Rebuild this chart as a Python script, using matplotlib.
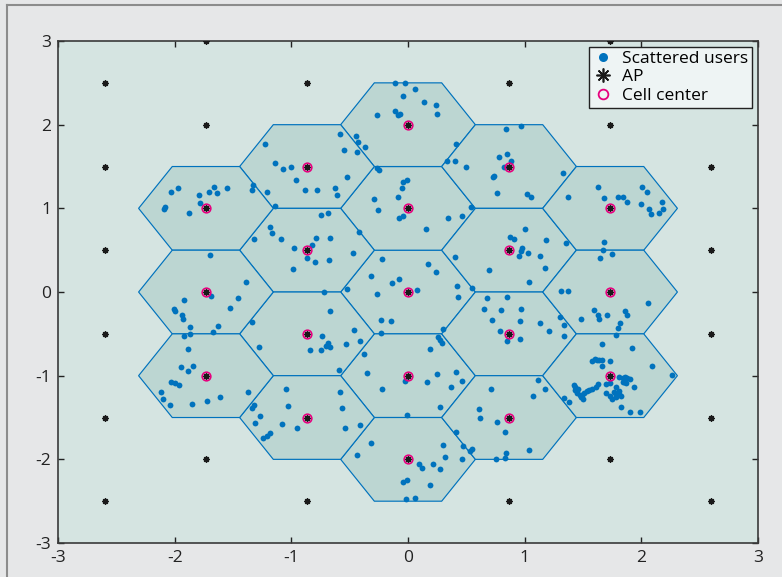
import numpy as np
import matplotlib
matplotlib.use("Agg")
import matplotlib.pyplot as plt
from matplotlib.patches import RegularPolygon
from matplotlib.lines import Line2D

plt.rcParams['font.family'] = ['Open Sans', 'DejaVu Sans']
plt.rcParams['axes.unicode_minus'] = False

# centros de celda (cluster de 19 celdas hexagonales)
cell_x = [0, 0, 0, 0, 0,
          -0.866, -0.866, -0.866, -0.866, 0.866, 0.866, 0.866, 0.866,
          -1.732, -1.732, -1.732, 1.732, 1.732, 1.732]
cell_y = [0, 1, 2, -1, -2,
          1.5, 0.5, -0.5, -1.5, 1.5, 0.5, -0.5, -1.5,
          1, 0, -1, 1, 0, -1]
cell_radius = 1 / np.sqrt(3)

# APs exteriores
ap_out_x = [-2.598, -2.598, -2.598, -2.598, -2.598, -2.598,
            -1.732, -1.732, -1.732, -0.866, -0.866, 0.866, 0.866,
            1.732, 1.732, 1.732, 2.598, 2.598, 2.598, 2.598, 2.598, 2.598]
ap_out_y = [2.5, 1.5, 0.5, -0.5, -1.5, -2.5,
            3, 2, -2, 2.5, -2.5, 2.5, -2.5,
            3, 2, -2, 2.5, 1.5, 0.5, -0.5, -1.5, -2.5]

# usuarios dispersos
user_x = [-0.11, -0.03, 0.06, -0.04, 0.14, 0.24, -0.27, -0.11, -0.09, -0.07, 0.25, 0.41,
          -0.58, -0.45, -0.43, -0.37, -0.55, -0.44, -1.23, -1.14, -1.07, -1.00, -0.96, -0.88,
          -0.78, -0.63, -0.61, -0.52, -1.21, -1.33, -1.34, -1.14,
          -0.27, -0.25, -0.04, -0.01, -0.05, -0.09, -0.29, -0.26, -0.08, -0.04, 0.15, 0.34, 0.46, 0.54,
          0.84, 0.97, 0.78, 0.85, 0.88, 0.82, 0.50, 0.40, 0.33, 0.74, 0.73, 0.76, 1.02, 1.05, 1.33, 1.37,
          -0.75, -0.69, -1.18, -1.17, -1.32, -1.09, -0.98, -0.82, -0.79, -0.67, -0.87, -0.80, -0.68,
          -0.99, -0.47, -0.42, -0.72, -0.52,
          1.00, 0.87, 0.91, 0.98, 0.97, 1.03, 0.95, 1.18, 1.35, 1.13, 1.17, 0.69, 0.40, 1.04, 1.31, 1.37,
          -0.22, -0.32, -0.14, -0.08, 0.17, 0.24, 0.08, 0.42, 0.55, -0.27, 0.43, 0.68, 0.85,
          -0.67, -0.74, -0.69, -0.70, -0.67, -0.84, -0.75, -0.53, -0.46, -0.41, -0.38, -1.28, -1.34, -0.59,
          -0.23, -0.15, -0.23, 0.30, 0.26, 0.27, 0.29, 0.19, -0.35, -0.03, 0.16, 0.25, 0.41, 0.46, 0.37,
          -0.22, 0.27, -0.01,
          0.65, 0.80, 0.97, 0.72, 0.96, 0.79, 0.85, 0.96, 1.13, 1.21, 1.34, 1.30, 1.34,
          -1.05, -1.03, -1.27, -1.31, -1.32, -1.34, -1.08, -0.95, -1.18, -1.21, -1.24, -0.58, -0.57,
          -0.54, -0.41,
          -0.32, -0.44, -0.04, -0.01, 0.09, 0.12, 0.21, 0.27, 0.19, 0.30, 0.32, 0.46, 0.47, 0.53, 0.55,
          0.41, -0.02, 0.06,
          1.11, 1.17, 1.07, 0.71, 0.61, 0.62, 0.76, 0.83, 0.84, 0.83, 0.75, 1.04, 1.34, 1.38,
          -2.09, -2.08, -2.03, -1.97, -1.88, -1.79, -1.78, -1.71, -1.66, -1.64, -1.55, -1.70, -1.39,
          -1.69, -1.46, -1.53, -1.92, -2.01, -2.00, -1.94, -1.93, -1.87, -1.87, -1.92, -1.67, -1.63,
          -1.89, -1.95, -1.89, -1.84, -2.03, -2.00, -1.96, -2.12, -2.10, -2.04, -1.85, -1.72, -1.61, -1.37,
          1.63, 1.68, 1.80, 1.84, 1.88, 2.01, 2.05, 2.00, 2.07, 2.08, 2.15, 2.18, 2.19,
          1.68, 1.67, 1.75, 1.65,
          1.48, 1.59, 1.63, 1.64, 1.71, 1.86, 1.88, 1.82, 1.80, 1.78, 2.06,
          1.66, 1.92, 1.73, 1.66, 1.58, 1.60, 1.62, 1.64, 1.66, 2.09, 2.26, 1.94,
          1.81, 1.84, 1.86, 1.88, 1.90, 1.85, 1.87, 1.84, 1.73, 1.70, 1.78, 1.81, 1.77, 1.78, 1.81, 1.83,
          1.75, 1.78, 1.70, 1.73, 1.63, 1.61, 1.58, 1.55, 1.53, 1.51, 1.49, 1.47, 1.45, 1.43, 1.42, 1.43,
          1.46, 1.48, 1.50, 1.83, 1.90, 1.99]
user_y = [2.50, 2.50, 2.43, 2.34, 2.27, 2.23, 2.12, 2.16, 2.12, 2.13, 2.13, 1.77,
          1.89, 1.87, 1.79, 1.73, 1.70, 1.67, 1.77, 1.54, 1.47, 1.49, 1.34, 1.22,
          1.22, 1.24, 1.16, 1.38, 1.19, 1.28, 1.22, 1.03,
          1.48, 1.46, 1.32, 1.34, 1.24, 1.14, 1.11, 0.98, 0.88, 0.91, 0.75, 0.88, 0.91, 1.02,
          1.95, 1.99, 1.61, 1.65, 1.57, 1.49, 1.49, 1.57, 1.57, 1.39, 1.37, 1.18, 1.17, 1.14, 1.42, 1.14,
          0.92, 0.95, 0.78, 0.71, 0.63, 0.63, 0.53, 0.56, 0.64, 0.64, 0.41, 0.36, 0.38,
          0.28, 0.47, 0.72, 0.00, 0.04,
          0.75, 0.66, 0.63, 0.53, 0.49, 0.47, 0.43, 0.62, 0.58, 0.43, 0.29, 0.26, 0.42, 0.12, 0.01, 0.01,
          0.40, 0.19, 0.11, 0.15, 0.34, 0.24, 0.03, 0.07, 0.05, -0.02, -0.06, -0.07, -0.06,
          -0.23, -0.53, -0.61, -0.65, -0.66, -0.69, -0.69, -0.62, -0.45, -0.58, -0.74, -0.66, -0.36, -0.93,
          -0.34, -0.35, -0.49, -0.44, -0.54, -0.57, -0.61, -0.68, -0.97, -1.06, -1.08, -0.98, -0.96, -1.06,
          -1.13, -1.16, -1.37, -1.47,
          -0.20, -0.21, -0.20, -0.33, -0.35, -0.46, -0.59, -0.56, -0.37, -0.47, -0.52, -0.30, -0.39,
          -1.16, -1.36, -1.48, -1.56, -1.35, -1.39, -1.58, -1.63, -1.68, -1.72, -1.75, -1.20, -1.39,
          -1.63, -1.59,
          -1.81, -1.95, -2.27, -2.25, -2.05, -2.10, -2.06, -2.12, -2.31, -1.83, -1.97, -2.00, -1.84, -1.90,
          -1.88, -1.67, -2.47, -2.46,
          -1.05, -1.16, -1.24, -1.16, -1.40, -1.51, -1.55, -1.67, -1.92, -1.98, -2.00, -1.89, -1.27, -1.32,
          0.99, 1.02, 1.20, 1.24, 0.94, 1.16, 1.06, 1.20, 1.26, 1.18, 1.24, 0.44, 0.12,
          -0.05, -0.07, -0.19, -0.10, -0.20, -0.23, -0.27, -0.32, -0.42, -0.50, -0.52, -0.48, -0.41,
          -0.68, -0.90, -0.94, -0.88, -1.08, -1.09, -1.11, -1.20, -1.28, -1.35, -1.34, -1.30, -1.25, -1.19,
          1.25, 1.12, 1.13, 1.13, 1.07, 1.25, 1.19, 1.05, 0.99, 0.93, 0.94, 1.08, 0.99,
          0.60, 0.50, 0.46, 0.41,
          -0.32, -0.22, -0.27, -0.32, -0.27, -0.23, -0.28, -0.37, -0.43, -0.51, -0.13,
          -0.62, -0.67, -0.83, -0.89, -0.82, -0.80, -0.81, -0.81, -0.81, -0.89, -0.99, -1.14,
          -1.01, -1.03, -1.02, -1.03, -1.04, -1.07, -1.09, -1.08, -1.09, -1.10, -1.13, -1.18, -1.19, -1.23,
          -1.22, -1.24,
          -1.28, -1.26, -1.21, -1.24, -1.10, -1.14, -1.16, -1.17, -1.18, -1.21, -1.23, -1.23, -1.21, -1.17,
          -1.11, -1.13,
          -1.16, -1.26, -1.28, -1.37, -1.43, -1.44]

BLUE = '#0072bd'
MAGENTA = '#e6007e'
HEX_FILL = '#bcd6d2'
AX_BG = '#d5e4e1'
FIG_BG = '#e6e7e8'

fig = plt.figure(figsize=(7.82, 5.77), dpi=100, facecolor=FIG_BG)
ax = fig.add_axes([0.0742, 0.0589, 0.8951, 0.8700])
ax.set_facecolor(AX_BG)

# marco exterior
fig.add_artist(Line2D([0.009, 1.0], [0.991, 0.991], transform=fig.transFigure, color='#8c8c8c', lw=1.5))
fig.add_artist(Line2D([0.009, 0.009], [0.0, 0.991], transform=fig.transFigure, color='#8c8c8c', lw=1.5))

for cx, cy in zip(cell_x, cell_y):
    hexagon = RegularPolygon((cx, cy), numVertices=6, radius=cell_radius,
                             orientation=np.pi / 6, facecolor=HEX_FILL,
                             edgecolor=BLUE, linewidth=0.85, zorder=1)
    ax.add_patch(hexagon)

ax.plot(user_x, user_y, 'o', color=BLUE, markersize=4.2, markeredgewidth=0, zorder=3)

ast = (8, 2, 0)
ax.plot(ap_out_x, ap_out_y, linestyle='none', marker=ast, color='#1a1a1a',
        markersize=4.5, markeredgewidth=1.0, zorder=4)
ax.plot(cell_x, cell_y, linestyle='none', marker=ast, color='#1a1a1a',
        markersize=4.5, markeredgewidth=1.0, zorder=5)
ax.plot(cell_x, cell_y, 'o', markerfacecolor='none', markeredgecolor=MAGENTA,
        markersize=6.2, markeredgewidth=1.2, zorder=6)

ax.set_xlim(-3, 3)
ax.set_ylim(-3, 3)
ax.set_xticks([-3, -2, -1, 0, 1, 2, 3])
ax.set_yticks([-3, -2, -1, 0, 1, 2, 3])
ax.tick_params(direction='in', length=4, width=1.0, top=True, right=True,
               labelsize=12.5, colors='#222222', pad=5)
for sp in ax.spines.values():
    sp.set_color('#3a3a3a')
    sp.set_linewidth(1.2)

handles = [
    Line2D([], [], linestyle='none', marker='o', color=BLUE, markersize=6.5, markeredgewidth=0),
    Line2D([], [], linestyle='none', marker=ast, color='#1a1a1a', markersize=10, markeredgewidth=1.2),
    Line2D([], [], linestyle='none', marker='o', markerfacecolor='none',
           markeredgecolor=MAGENTA, markersize=7, markeredgewidth=1.3),
]
leg = ax.legend(handles, ['Scattered users', 'AP', 'Cell center'], loc='upper right',
                fontsize=12.5, frameon=True, fancybox=False, borderaxespad=0.35,
                handlelength=1.2, handletextpad=0.5, labelspacing=0.15, borderpad=0.2)
leg.get_frame().set_edgecolor('#222222')
leg.get_frame().set_facecolor('#eef4f4')
leg.get_frame().set_alpha(1)
leg.get_frame().set_linewidth(1.0)
leg.set_zorder(10)

fig.savefig('out.png', dpi=100, facecolor=FIG_BG)
